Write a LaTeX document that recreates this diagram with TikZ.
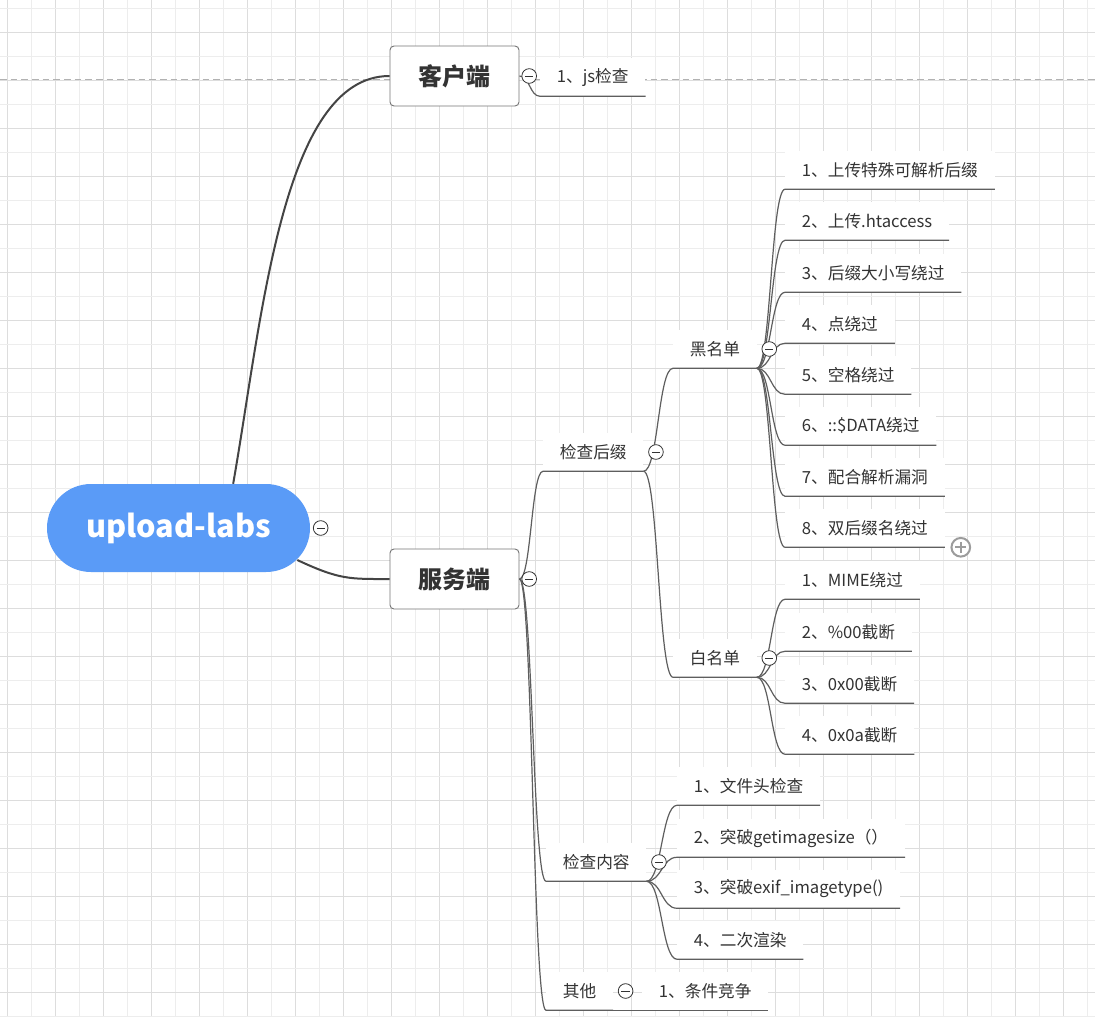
\documentclass[tikz,border=0pt]{standalone}
\usepackage{fontspec}
\newfontfamily\cjk{Noto Sans CJK SC}
\usepackage{tikz}
\usetikzlibrary{positioning, backgrounds, calc}
\definecolor{rootB}{HTML}{5A9BF7}
\definecolor{lineG}{HTML}{5E5E5E}
\definecolor{edgeD}{HTML}{444444}
\definecolor{textG}{HTML}{333333}
\definecolor{gridL}{HTML}{EDEDED}
\definecolor{gridD}{HTML}{DDDDDD}
\definecolor{plusG}{HTML}{9C9C9C}

\begin{document}
\begin{tikzpicture}[x=0.75pt, y=-0.75pt, font=\cjk,
  topic/.style={anchor=west, fill=white, text=textG, inner xsep=12.5pt, inner ysep=0pt,
     minimum height=28.5pt, font=\cjk\fontsize{12.5}{15}\selectfont},
  mainbox/.style={draw=lineG!85, line width=0.7pt, fill=white, rounded corners=3pt,
     minimum width=96.75pt, minimum height=45pt, text=textG,
     font=\cjk\bfseries\fontsize{18}{20}\selectfont},
  rootpill/.style={fill=rootB, text=white, rounded corners=33pt, minimum width=197.25pt,
     minimum height=66pt, font=\cjk\bfseries\fontsize{23}{28}\selectfont},
  fold/.style={circle, draw=textG, fill=white, line width=0.6pt, minimum size=11pt, inner sep=0pt,
     path picture={\draw[textG, line width=0.7pt] ([xshift=2.4pt]path picture bounding box.west)
        -- ([xshift=-2.4pt]path picture bounding box.east);}},
  morefold/.style={circle, draw=plusG, fill=white, line width=1.5pt, minimum size=14pt, inner sep=0pt,
     path picture={\draw[plusG, line width=1.5pt]
        ([xshift=3pt]path picture bounding box.west) -- ([xshift=-3pt]path picture bounding box.east)
        ([yshift=-3pt]path picture bounding box.north) -- ([yshift=3pt]path picture bounding box.south);}},
  link/.style={lineG, line width=0.9pt},
  trunk/.style={edgeD, line width=1.5pt},
  branch/.style={to path={.. controls ($(\tikztostart)!0.5!(\tikztotarget|-\tikztostart)$)
     and ($(\tikztotarget)!0.5!(\tikztostart|-\tikztotarget)$) .. (\tikztotarget)}}]
  \useasboundingbox (0,0) rectangle (1095,1017);
  % paper grid
  \begin{scope}[on background layer]
    \fill[white] (0,0) rectangle (1095,1017);
    \foreach \k in {0,...,22}{
      \draw[gridL, line width=0.7pt] (31+48*\k,0) -- (31+48*\k,1017);
      \draw[gridD, line width=0.7pt] (7+48*\k,0) -- (7+48*\k,1017);
    }
    \foreach \k in {0,...,21}{
      \draw[gridL, line width=0.7pt] (0,8+48*\k) -- (1095,8+48*\k);
      \draw[gridD, line width=0.7pt] (0,32+48*\k) -- (1095,32+48*\k);
    }
    \draw[gray!60, line width=0.7pt, dash pattern=on 5pt off 3pt] (0,79) -- (1095,79);
  \end{scope}

  % root and the two sides
  \node[rootpill] (root) at (178.5,528) {upload-labs};
  \node[mainbox] (client) at (454.5,76) {客户端};
  \node[mainbox] (server) at (454.5,579) {服务端};

  \node[topic] (js) at (540,77) {1、js检查};

  \node[topic] (suffix) at (543,452) {检查后缀};
  \node[topic] (content) at (546,862) {检查内容};
  \node[topic] (other) at (546,991) {其他};
  \node[topic] (race) at (642,991) {1、条件竞争};

  \node[topic] (black) at (673,349) {黑名单};
  \node[topic] (white) at (673,658) {白名单};

  % blacklist
  \foreach \i/\yy/\lab in {1/170/1、上传特殊可解析后缀, 2/221/2、上传.htaccess,
      3/273/3、后缀大小写绕过, 4/324/4、点绕过, 5/375/5、空格绕过,
      6/426/6、::\$DATA绕过, 7/477/7、配合解析漏洞, 8/528/8、双后缀名绕过}
    \node[topic] (b\i) at (785,\yy) {\lab};
  % whitelist
  \foreach \i/\yy/\lab in {1/580/1、MIME绕过, 2/632/2、\%00截断,
      3/684/3、0x00截断, 4/735/4、0x0a截断}
    \node[topic] (w\i) at (785,\yy) {\lab};
  % content checks
  \foreach \i/\yy/\lab in {1/786/1、文件头检查, 2/838/2、突破getimagesize（）,
      3/889/3、突破exif\_imagetype(), 4/940/4、二次渲染}
    \node[topic] (c\i) at (677,\yy) {\lab};

  % connectors
  \draw[trunk] (root.39) .. controls (262,320) and (282,76) .. (client.west);
  \draw[trunk] ($(root.east)+(-13,32)$) .. controls (340,580) and (350,579) .. (server.west);
  \draw[link] (client.east) to[branch] (js.south west) -- (js.south east);
  \foreach \n in {suffix,content,other}
    \draw[link] (server.east) to[branch] (\n.south west) -- (\n.south east);
  \draw[link] (other.south east) -- (race.south west) -- (race.south east);
  \foreach \n in {black,white}
    \draw[link] (suffix.south east) to[branch] (\n.south west) -- (\n.south east);
  \foreach \i in {1,...,8}
    \draw[link] (black.south east) to[branch] (b\i.south west) -- (b\i.south east);
  \foreach \i in {1,...,4}{
    \draw[link] (white.south east) to[branch] (w\i.south west) -- (w\i.south east);
    \draw[link] (content.south east) to[branch] (c\i.south west) -- (c\i.south east);
  }

  % fold markers
  \node[fold, right=2pt of root] (froot) {};
  \foreach \n in {client,server}
    \node[fold, right=1.5pt of \n] (f\n) {};
  \foreach \n in {suffix,content,other,black,white}
    \node[fold, right=3.5pt of \n] (f\n) {};
  \node[morefold] (bmore) at ($(b8.south east)+(16,0)$) {};
\end{tikzpicture}
\end{document}
